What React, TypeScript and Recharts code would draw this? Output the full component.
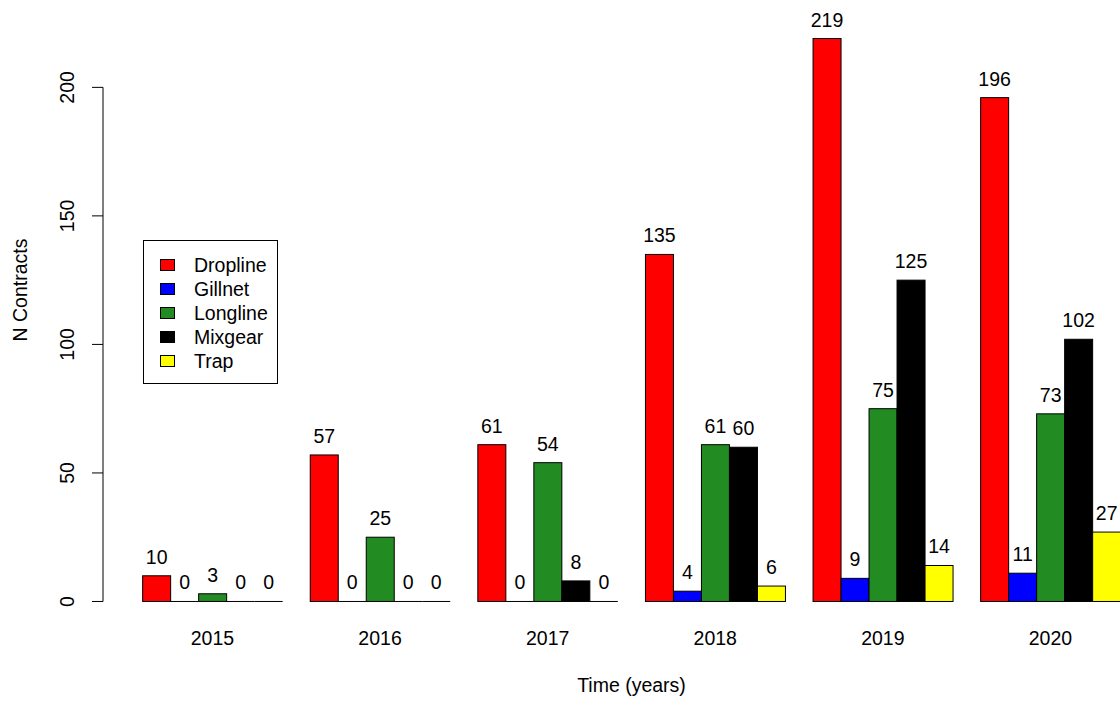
import React from "react";
import { Bar, BarChart, XAxis, YAxis, LabelList, Legend, ReferenceLine, Label } from "recharts";

const years = [2015, 2016, 2017, 2018, 2019, 2020];
const dropline = [10, 57, 61, 135, 219, 196];
const gillnet = [0, 0, 0, 4, 9, 11];
const longline = [3, 25, 54, 61, 75, 73];
const mixgear = [0, 0, 8, 60, 125, 102];
const trap = [0, 0, 0, 6, 14, 27];

const gears = ["Dropline", "Gillnet", "Longline", "Mixgear", "Trap"];
const gearColors = ["#ff0000", "#0000ff", "#228b22", "#000000", "#ffff00"];
const yTicks = [0, 50, 100, 150, 200];

const data = years.map((year, i) => ({
    year,
    Dropline: dropline[i],
    Gillnet: gillnet[i],
    Longline: longline[i],
    Mixgear: mixgear[i],
    Trap: trap[i],
}));

const FONT = "'Liberation Sans', Arial, Helvetica, sans-serif";
const FS = 19.5;
const X_DOMAIN: [number, number] = [2014.347, 2020.415];
const Y_DOMAIN: [number, number] = [-8.76, 227.76];

// R draws zero-height bars as a flat line on the baseline
const BarShape = (props: any) => {
    const { x, y, width, height, fill } = props;
    if (!height) {
        return <line x1={x} x2={x + width} y1={y} y2={y} stroke="#000" strokeWidth={1} />;
    }
    return <rect x={x} y={y} width={width} height={height} fill={fill} stroke="#000" strokeWidth={1} />;
};

const XTick = (props: any) => {
    const { x, y, payload } = props;
    return (
        <text x={x} y={y + 21} textAnchor="middle" fontSize={FS} fontFamily={FONT} fill="#000">
            {payload.value}
        </text>
    );
};

const YTick = (props: any) => {
    const { x, y, payload } = props;
    const tx = x - 18;
    return (
        <text
            x={tx}
            y={y}
            transform={`rotate(-90, ${tx}, ${y})`}
            textAnchor="middle"
            fontSize={FS}
            fontFamily={FONT}
            fill="#000"
        >
            {payload.value}
        </text>
    );
};

const LegendBox = () => (
    <div
        style={{
            position: "relative",
            width: 135,
            height: 144,
            boxSizing: "border-box",
            border: "1px solid #000",
            background: "#fff",
            fontFamily: FONT,
            fontSize: FS,
            color: "#000",
        }}
    >
        {gears.map((g, i) => (
            <div key={g} style={{ position: "absolute", left: 0, top: 12 + i * 24, height: 24, width: 133 }}>
                <div
                    style={{
                        position: "absolute",
                        left: 16,
                        top: 6,
                        width: 15,
                        height: 12,
                        boxSizing: "border-box",
                        border: "1px solid #000",
                        background: gearColors[i],
                    }}
                />
                <div style={{ position: "absolute", left: 50, top: 0, lineHeight: "24px", whiteSpace: "nowrap" }}>{g}</div>
            </div>
        ))}
    </div>
);

export default function App() {
    return (
        <div style={{ position: "absolute", left: 0, top: 0, width: 1120, height: 702, background: "#fff" }}>
            <BarChart
                width={1120}
                height={702}
                data={data}
                margin={{ top: 16, right: 0, bottom: 0, left: 0 }}
                barGap={0}
            >
                <XAxis
                    dataKey="year"
                    type="number"
                    domain={X_DOMAIN}
                    ticks={years}
                    axisLine={false}
                    tickLine={false}
                    tickSize={0}
                    tickMargin={0}
                    height={78}
                    tick={<XTick />}
                    interval={0}
                >
                    <Label
                        content={(p: any) => {
                            const vb = p.viewBox;
                            return (
                                <text
                                    x={vb.x + vb.width / 2 + 20}
                                    y={vb.y + vb.height - 10}
                                    textAnchor="middle"
                                    fontSize={FS}
                                    fontFamily={FONT}
                                    fill="#000"
                                >
                                    Time (years)
                                </text>
                            );
                        }}
                    />
                </XAxis>
                <YAxis
                    type="number"
                    domain={Y_DOMAIN}
                    ticks={yTicks}
                    width={103}
                    axisLine={false}
                    tickLine={{ stroke: "#000" }}
                    tickSize={11}
                    tickMargin={0}
                    tick={<YTick />}
                    interval={0}
                >
                    <Label
                        content={(p: any) => {
                            const vb = p.viewBox;
                            const cx = 27;
                            const cy = vb.y + vb.height / 2 - 30;
                            return (
                                <text
                                    x={cx}
                                    y={cy}
                                    transform={`rotate(-90, ${cx}, ${cy})`}
                                    textAnchor="middle"
                                    fontSize={FS}
                                    fontFamily={FONT}
                                    fill="#000"
                                >
                                    N Contracts
                                </text>
                            );
                        }}
                    />
                </YAxis>
                <ReferenceLine
                    segment={[
                        { x: X_DOMAIN[0], y: 0 },
                        { x: X_DOMAIN[0], y: 200 },
                    ]}
                    stroke="#000"
                    strokeWidth={1}
                    ifOverflow="visible"
                />
                <Legend
                    layout="vertical"
                    align="center"
                    verticalAlign="middle"
                    wrapperStyle={{ left: 143, top: 240, width: 135, height: 144 }}
                    content={() => <LegendBox />}
                />
                {gears.map((g, i) => (
                    <Bar
                        key={g}
                        dataKey={g}
                        name={g}
                        fill={gearColors[i]}
                        barSize={28}
                        shape={<BarShape />}
                        isAnimationActive={false}
                    >
                        <LabelList
                            dataKey={g}
                            position="top"
                            offset={12}
                            fontSize={FS}
                            fontFamily={FONT}
                            fill="#000"
                        />
                    </Bar>
                ))}
            </BarChart>
        </div>
    );
}
